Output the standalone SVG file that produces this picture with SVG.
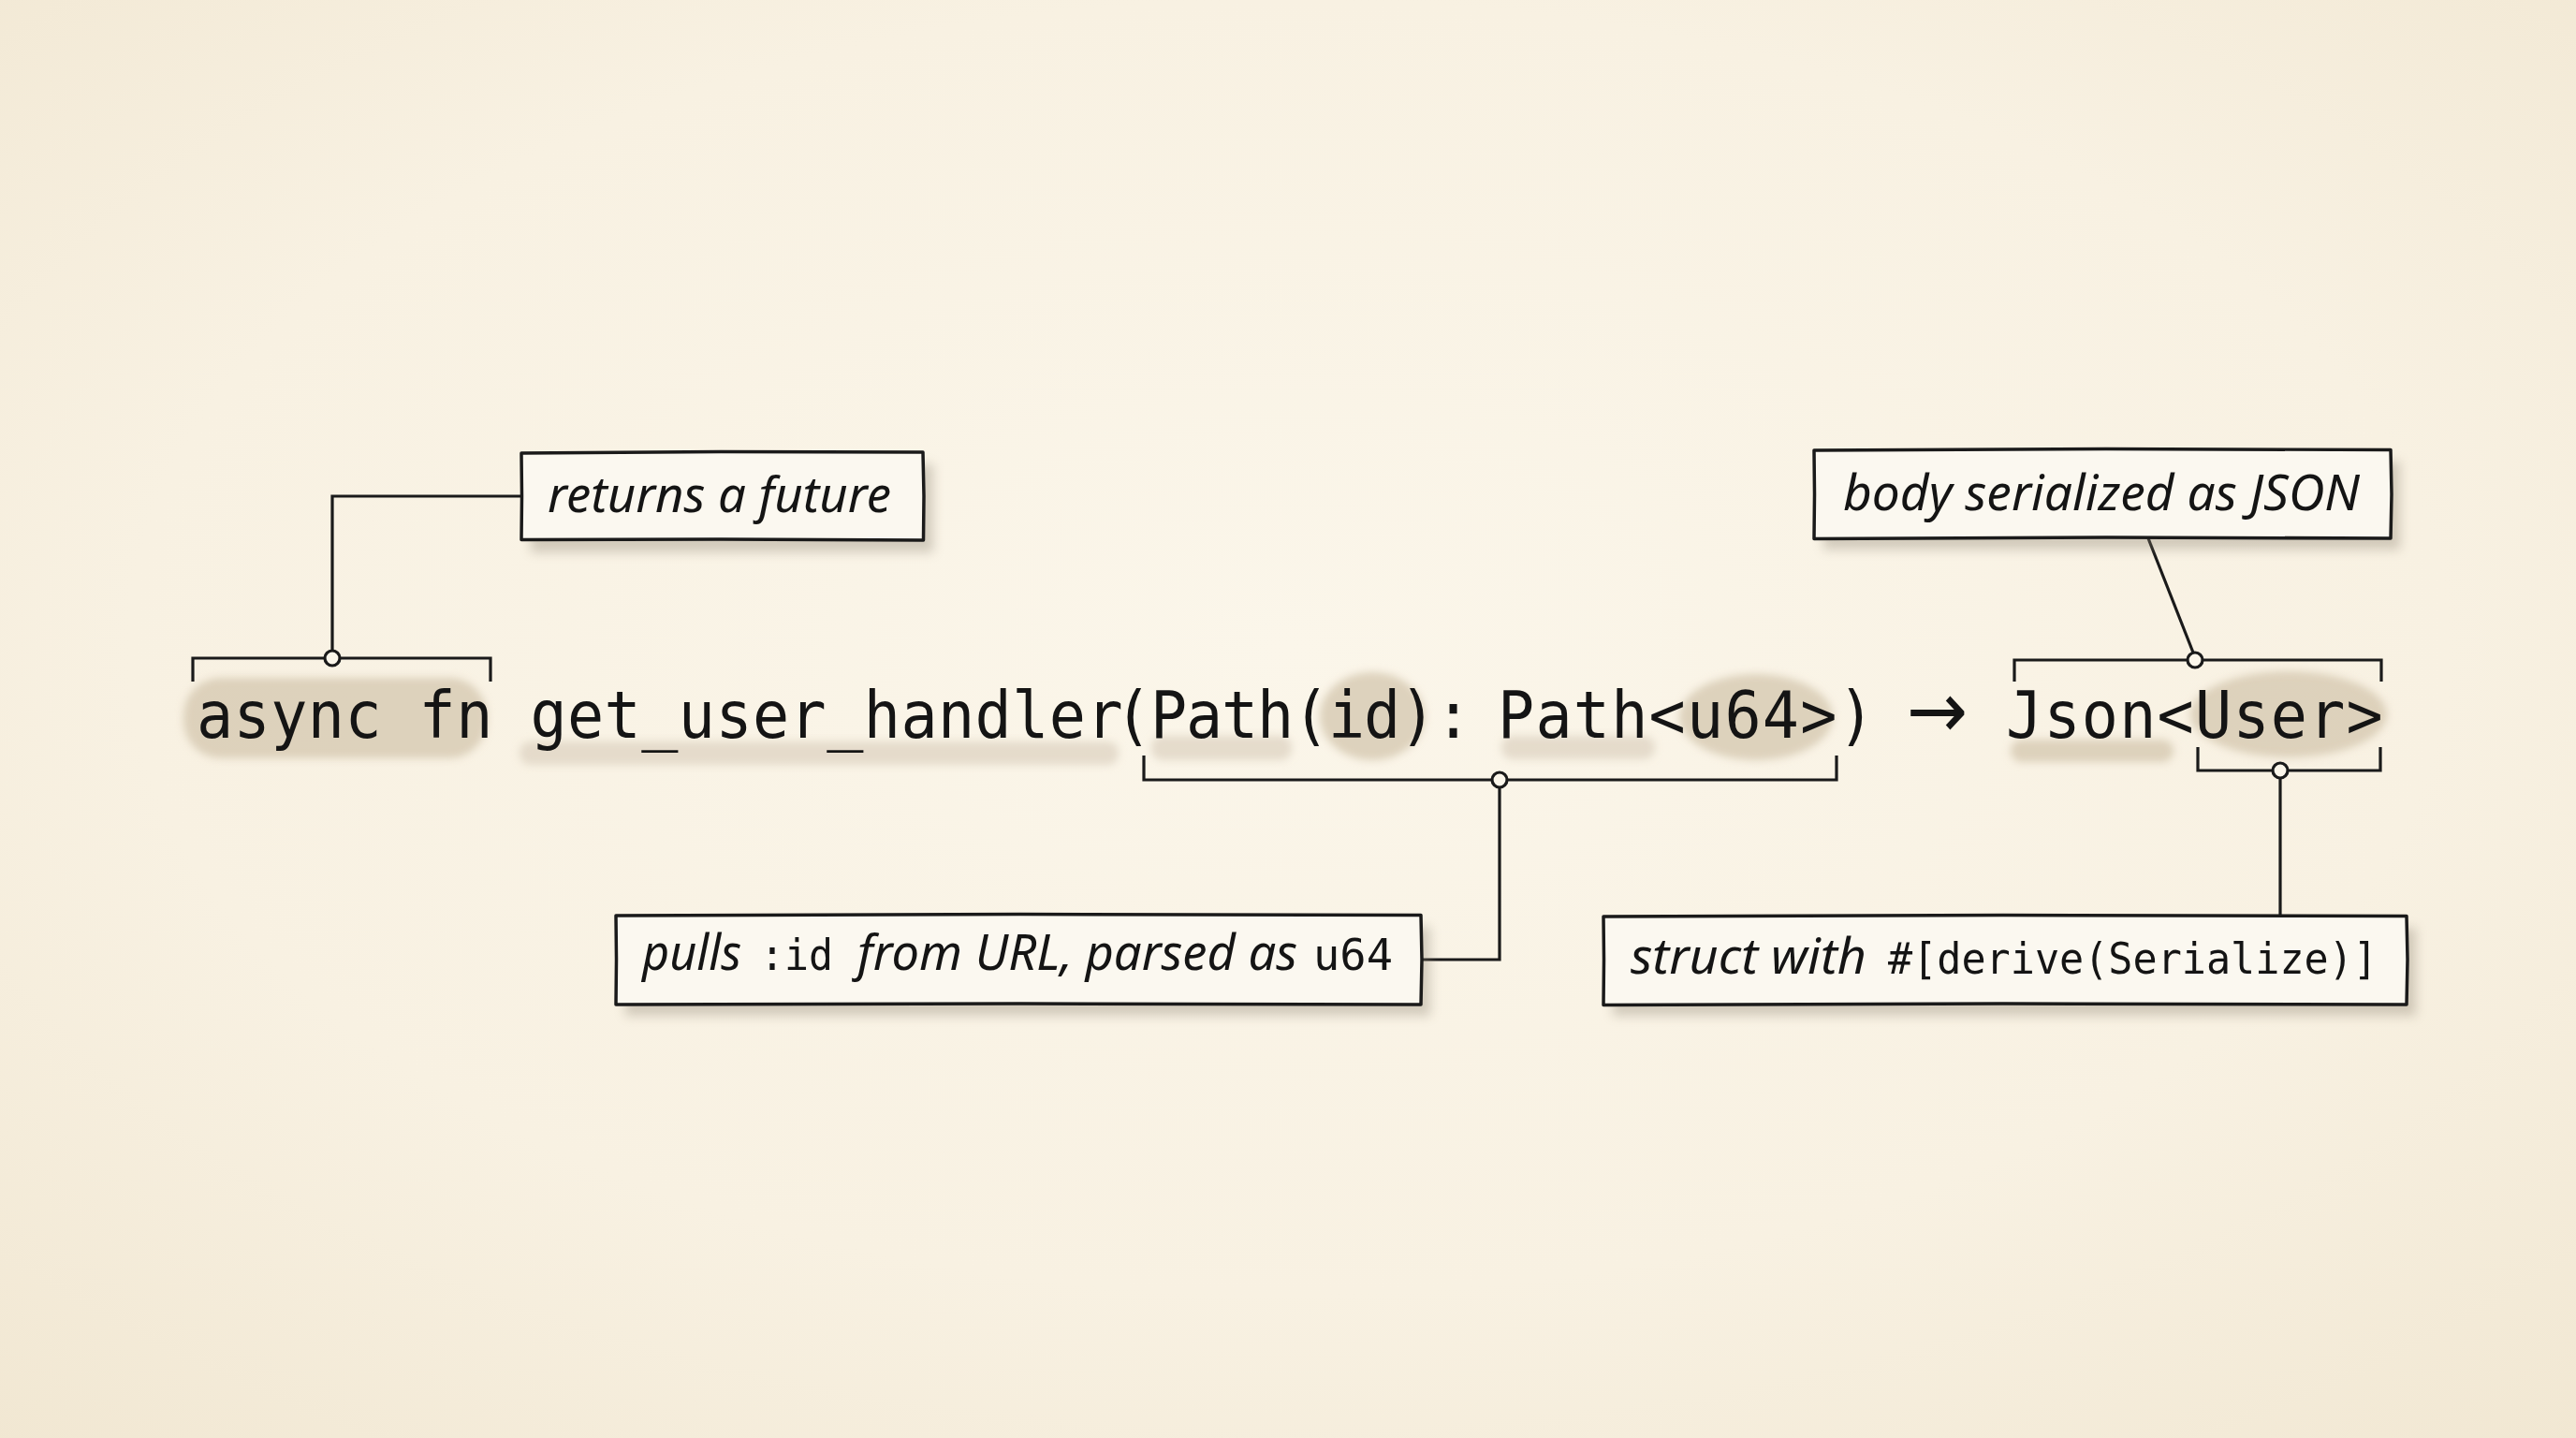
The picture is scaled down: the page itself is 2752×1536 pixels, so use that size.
<svg xmlns="http://www.w3.org/2000/svg" width="2752" height="1536" viewBox="0 0 2752 1536">
<defs>
  <radialGradient id="paper" cx="50%" cy="45%" r="75%">
    <stop offset="0" stop-color="#fbf6ea"/>
    <stop offset="0.6" stop-color="#f8f1e2"/>
    <stop offset="1" stop-color="#f1e7d2"/>
  </radialGradient>
  <filter id="blur" x="-20%" y="-40%" width="140%" height="180%">
    <feGaussianBlur stdDeviation="4.5"/>
  </filter>
  <filter id="shadow" x="-10%" y="-30%" width="120%" height="170%">
    <feGaussianBlur stdDeviation="6"/>
  </filter>
  <style>
    .code { font-family: "DejaVu Sans Mono", "Liberation Mono", monospace; font-size: 70px; fill: #141414; }
    .arrow { font-family: "DejaVu Sans", sans-serif; font-size: 84px; }
    .hand { font-family: "Noto Sans", "Open Sans", sans-serif; font-style: italic; font-size: 52px; fill: #141414; }
    .mono { font-family: "DejaVu Sans Mono", "Liberation Mono", monospace; font-style: normal; font-size: 46px; }
    .box { fill: #fbf8f0; stroke: #1a1a1a; stroke-width: 3.5; stroke-linejoin: round; }
    .shadow { fill: #8a8070; opacity: 0.35; }
    .line { fill: none; stroke: #1a1a1a; stroke-width: 3.2; stroke-linejoin: miter; }
    .dot { fill: #fbf6ea; stroke: #1a1a1a; stroke-width: 3.2; }
    .hl { fill: #d6c9b2; opacity: 0.8; }
    .hl2 { fill: #ddd3c2; opacity: 0.75; }
  </style>
</defs>

<rect x="0" y="0" width="2752" height="1536" fill="url(#paper)"/>

<!-- highlights -->
<g id="highlights" filter="url(#blur)">
  <rect class="hl" x="196" y="724" width="324" height="86" rx="40"/>
  <rect class="hl2" x="555" y="792" width="640" height="25" rx="12"/>
  <rect class="hl2" x="1230" y="786" width="150" height="26" rx="12"/>
  <ellipse class="hl" cx="1466" cy="765" rx="56" ry="47"/>
  <rect class="hl2" x="1604" y="786" width="164" height="25" rx="12"/>
  <ellipse class="hl" cx="1876" cy="766" rx="82" ry="46"/>
  <rect class="hl" x="2148" y="790" width="174" height="24" rx="12"/>
  <ellipse class="hl" cx="2445" cy="763" rx="105" ry="46"/>
</g>

<!-- code line -->
<g id="code" transform="scale(0.93,1)">
  <text class="code" y="788"><tspan x="225.81 268.39 310.97 353.55 396.13 438.71 481.29 523.87 566.45 609.03 651.61 694.19 736.77 779.35 821.94 864.52 907.10 949.68 992.26 1034.84 1077.42 1120.0 1162.58 1205.16 1247.74 1280.65 1321.51 1362.37 1403.23 1444.09 1484.95 1525.81 1566.67 1607.53 1648.39 1689.25 1720.43 1763.87 1807.31 1850.75 1894.19 1937.63 1981.07 2024.51 2067.95 2111.39 2154.84">async fn get_user_handler(Path(id): Path&lt;u64&gt;) </tspan><tspan class="arrow" x="2190">→</tspan><tspan x="2268.82 2304.30 2347.74 2391.18 2434.62 2478.06 2521.51 2564.95 2608.39 2651.83 2695.27"> Json&lt;User&gt;</tspan></text>
</g>

<!-- connectors -->
<g id="connectors">
  <path class="line" d="M206,728 V703 H524 V728"/>
  <path class="line" d="M557,530 H355 V695"/>
  <circle class="dot" cx="355" cy="703" r="8"/>

  <path class="line" d="M1222,807 V833 H1962 V807"/>
  <path class="line" d="M1602,841 V1025 H1518"/>
  <circle class="dot" cx="1602" cy="833" r="8"/>

  <path class="line" d="M2152,728 V705 H2544 V728"/>
  <path class="line" d="M2295,575 L2343,697"/>
  <circle class="dot" cx="2345" cy="705" r="8"/>

  <path class="line" d="M2348,798 V823 H2543 V798"/>
  <path class="line" d="M2436,831 V978"/>
  <circle class="dot" cx="2436" cy="823" r="8"/>
</g>

<!-- annotation boxes -->
<g id="note-future">
  <rect class="shadow" x="567" y="496" width="430" height="94" filter="url(#shadow)"/>
  <path class="box" d="M557,484 L770,482.5 L986,483 L987,530 L986.5,577 L770,576 L557,576.5 L557.5,530 Z"/>
  <text class="hand" x="585" y="547" textLength="367" lengthAdjust="spacingAndGlyphs">returns a future</text>
</g>

<g id="note-json">
  <rect class="shadow" x="1948" y="493" width="616" height="94" filter="url(#shadow)"/>
  <path class="box" d="M1938,481 L2250,479.5 L2554,480.5 L2555,528 L2554,575 L2250,574 L1938,575.5 L1938.5,528 Z"/>
  <text class="hand" x="1969" y="545" textLength="552" lengthAdjust="spacingAndGlyphs">body serialized as JSON</text>
</g>

<g id="note-path">
  <rect class="shadow" x="668" y="990" width="860" height="95" filter="url(#shadow)"/>
  <path class="box" d="M658,978 L1090,976.5 L1518,977.5 L1519,1025 L1518,1073 L1090,1072 L658,1073 L658.5,1025 Z"/>
  <text class="hand" y="1036" font-size="50"><tspan x="686" textLength="106" lengthAdjust="spacingAndGlyphs">pulls</tspan><tspan> </tspan><tspan class="mono" x="812" textLength="78" lengthAdjust="spacingAndGlyphs">:id</tspan><tspan> </tspan><tspan x="916" textLength="470" lengthAdjust="spacingAndGlyphs">from URL, parsed as</tspan><tspan> </tspan><tspan class="mono" x="1403" textLength="85" lengthAdjust="spacingAndGlyphs">u64</tspan></text>
</g>

<g id="note-user">
  <rect class="shadow" x="1723" y="991" width="858" height="94" filter="url(#shadow)"/>
  <path class="box" d="M1713,979 L2140,977.5 L2571,978.5 L2572,1025 L2571,1073 L2140,1072 L1713,1073.5 L1713.5,1025 Z"/>
  <text class="hand" y="1040" font-size="50"><tspan x="1742" textLength="252" lengthAdjust="spacingAndGlyphs">struct with</tspan><tspan> </tspan><tspan class="mono" x="2017" textLength="523" lengthAdjust="spacingAndGlyphs">#[derive(Serialize)]</tspan></text>
</g>
</svg>
